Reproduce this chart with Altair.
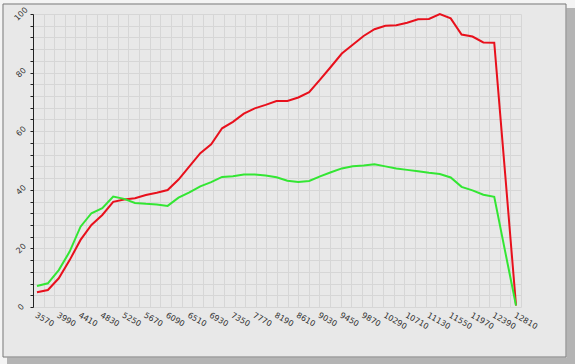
import altair as alt
import pandas as pd

# x categories (step 210)
x_vals = [3570, 3780, 3990, 4200, 4410, 4620, 4830, 5040, 5250, 5460, 5670,
          5880, 6090, 6300, 6510, 6720, 6930, 7140, 7350, 7560, 7770, 7980,
          8190, 8400, 8610, 8820, 9030, 9240, 9450, 9660, 9870, 10080, 10290,
          10500, 10710, 10920, 11130, 11340, 11550, 11760, 11970, 12180,
          12390, 12600, 12810]

red_vals = [5.0, 5.8, 9.8, 16.0, 22.9, 28.0, 31.4, 35.9, 36.7, 37.1, 38.2,
            39.0, 39.9, 43.5, 48.0, 52.5, 55.5, 61.0, 63.2, 66.0, 67.8, 69.0,
            70.3, 70.3, 71.5, 73.3, 77.6, 82.0, 86.5, 89.5, 92.5, 94.8, 96.0,
            96.2, 97.0, 98.2, 98.3, 100.0, 98.5, 93.0, 92.3, 90.3, 90.2, 45.5, 0.5]

green_vals = [7.2, 8.1, 12.6, 18.9, 27.4, 32.0, 33.7, 37.7, 36.9, 35.5, 35.2,
              35.0, 34.5, 37.3, 39.1, 41.2, 42.6, 44.4, 44.6, 45.2, 45.2, 44.9,
              44.3, 43.1, 42.7, 43.0, 44.6, 46.0, 47.3, 48.0, 48.3, 48.7, 48.0,
              47.3, 46.8, 46.3, 45.8, 45.4, 44.2, 41.0, 39.8, 38.3, 37.6, 19.0, 0.5]

x_labels = [3570, 3990, 4410, 4830, 5250, 5670, 6090, 6510, 6930, 7350, 7770,
            8190, 8610, 9030, 9450, 9870, 10290, 10710, 11130, 11550, 11970,
            12390, 12810]
y_ticks = [0, 4, 8, 12, 16, 20, 24, 28, 32, 36, 40, 44, 48, 52, 56, 60, 64,
           68, 72, 76, 80, 84, 88, 92, 96, 100]

X0, X1 = 3493, 12906
grid_x = [X0 + k * (X1 - X0) / 46 for k in range(47)]

df = pd.DataFrame({
    "x": x_vals * 2,
    "v": red_vals + green_vals,
    "s": ["red"] * len(x_vals) + ["green"] * len(x_vals),
})

FONT = "DejaVu Sans"
GRID = "#d6d6d6"
xscale = alt.Scale(domain=[X0, X1], nice=False, zero=False)
yscale = alt.Scale(domain=[0, 100], nice=False)

yaxis = alt.Axis(
    values=y_ticks, grid=True, gridColor=GRID, gridWidth=1,
    tickSize=3, tickColor="#222222", domainColor="#222222", title=None,
    labelExpr="datum.value % 20 === 0 ? datum.label : ''",
    labelAngle=315, labelAlign="center", labelBaseline="middle",
    labelPadding=9, labelFont=FONT, labelFontSize=8, labelColor="#333333")

lines = alt.Chart(df).mark_line(strokeWidth=2).encode(
    x=alt.X("x:Q", scale=xscale, axis=alt.Axis(
        values=x_labels, format="d", grid=False, ticks=False, domain=False, title=None,
        labelAngle=30, labelAlign="left", labelBaseline="top", labelPadding=4,
        labelFont=FONT, labelFontSize=8, labelColor="#333333", labelOverlap=False)),
    y=alt.Y("v:Q", scale=yscale, axis=yaxis),
    color=alt.Color("s:N", scale=alt.Scale(domain=["red", "green"],
                                           range=["#e8101c", "#33e633"]), legend=None),
    order=alt.Order("x:Q"),
)

gridlayer = alt.Chart(df).mark_line(opacity=0).encode(
    x=alt.X("x:Q", scale=xscale, axis=alt.Axis(
        orient="top", values=grid_x, grid=True, gridColor=GRID, gridWidth=1,
        labels=False, ticks=False, domain=False, title=None)),
    y=alt.Y("v:Q", scale=yscale, axis=yaxis),
    detail="s:N",
)

one = pd.DataFrame({"a": [0]})
frame = alt.Chart(one).mark_rect(fillOpacity=0, stroke="#7a7a7a", strokeWidth=1).encode(
    x=alt.value(-30), x2=alt.value(533), y=alt.value(-10), y2=alt.value(343))
shadow_r = alt.Chart(one).mark_rect(fill="#b4b4b4").encode(
    x=alt.value(533.5), x2=alt.value(542), y=alt.value(-6), y2=alt.value(350))
shadow_b = alt.Chart(one).mark_rect(fill="#b4b4b4").encode(
    x=alt.value(-26), x2=alt.value(542), y=alt.value(343.5), y2=alt.value(350))
white_t = alt.Chart(one).mark_rect(fill="#f4f4f4").encode(
    x=alt.value(-33), x2=alt.value(542), y=alt.value(-14), y2=alt.value(-10.5))
white_l = alt.Chart(one).mark_rect(fill="#f4f4f4").encode(
    x=alt.value(-33), x2=alt.value(-30.5), y=alt.value(-14), y2=alt.value(350))
white_tr = alt.Chart(one).mark_rect(fill="#f4f4f4").encode(
    x=alt.value(533.5), x2=alt.value(542), y=alt.value(-14), y2=alt.value(-6))
white_bl = alt.Chart(one).mark_rect(fill="#f4f4f4").encode(
    x=alt.value(-33), x2=alt.value(-26), y=alt.value(343.5), y2=alt.value(350))

chart = alt.layer(gridlayer, lines, shadow_r, shadow_b, white_t, white_l,
                  white_tr, white_bl, frame).resolve_axis(
    x="independent"
).properties(
    width=488, height=293,
    autosize=alt.AutoSizeParams(type="none"),
    padding={"left": 33, "top": 14, "right": 54, "bottom": 57},
    background="#e8e8e8",
).configure_view(stroke=None)

chart.save("out.html", embed_options={"renderer": "svg", "actions": False})
